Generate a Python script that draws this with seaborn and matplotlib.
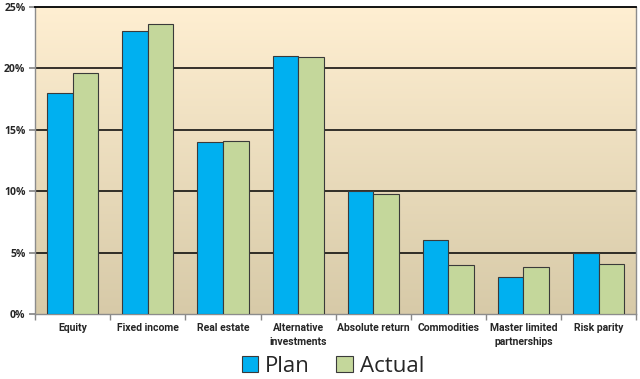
import numpy as np
import pandas as pd
import matplotlib
matplotlib.use("Agg")
import matplotlib.pyplot as plt
import seaborn as sns
from matplotlib.colors import LinearSegmentedColormap
from matplotlib.ticker import MultipleLocator, FuncFormatter

# Dados
categorias = ["Equity", "Fixed income", "Real estate", "Alternative\ninvestments",
              "Absolute return", "Commodities", "Master limited\npartnerships", "Risk parity"]
plan = [18.0, 23.0, 14.0, 21.0, 10.0, 6.0, 3.0, 5.0]
actual = [19.6, 23.6, 14.1, 20.9, 9.8, 4.0, 3.8, 4.1]
series = ["Plan", "Actual"]

df = pd.DataFrame({
    "categoria": categorias * 2,
    "valor": plan + actual,
    "serie": [series[0]] * len(plan) + [series[1]] * len(actual),
})

sns.set_theme(style="white")
plt.rcParams["font.family"] = ["Open Sans", "DejaVu Sans"]

fig = plt.figure(figsize=(6.4, 3.79), dpi=100)
ax = fig.add_axes([0.055, 0.171, 0.939, 0.811])

# fundo em gradiente
grad = LinearSegmentedColormap.from_list("bg", ["#D7CAA8", "#FFEFD2"])
ax.imshow(np.linspace(0, 1, 256).reshape(-1, 1), cmap=grad, origin="lower",
          extent=[0, 1, 0, 1], transform=ax.transAxes, aspect="auto", zorder=0)

sns.barplot(data=df, x="categoria", y="valor", hue="serie",
            palette={"Plan": "#00B0F0", "Actual": "#C4D79B"}, saturation=1,
            width=0.68, edgecolor="#3a3a3a", linewidth=0.8, ax=ax, zorder=3)

ax.set_ylim(0, 25)
ax.set_xlim(-0.5, len(categorias) - 0.5)
ax.yaxis.set_major_locator(MultipleLocator(5))
ax.yaxis.set_major_formatter(FuncFormatter(lambda v, p: f"{int(v)}%"))
for y in [5, 10, 15, 20]:
    ax.axhline(y, color="black", linewidth=1.1, zorder=2)

ax.set_xlabel("")
ax.set_ylabel("")
ax.set_xticks(range(len(categorias)))
ax.set_xticklabels(categorias, fontsize=7.5, fontweight="bold", linespacing=1.5,
                   family=["Roboto", "DejaVu Sans"])
ax.set_xticks(np.arange(-0.5, len(categorias), 1), minor=True)
ax.tick_params(axis="x", which="major", length=0, pad=6)
ax.tick_params(axis="x", which="minor", length=4, color="#888888", direction="out", bottom=True)
ax.tick_params(axis="y", length=4, color="#888888", direction="out", left=True,
               labelsize=7.5, pad=3)
for lbl in ax.get_yticklabels():
    lbl.set_fontweight("bold")

for s in ["left", "right", "bottom"]:
    ax.spines[s].set_color("#8c8c8c")
    ax.spines[s].set_linewidth(1.0)
ax.spines["top"].set_color("black")
ax.spines["top"].set_linewidth(1.3)

ax.legend_.remove()
handles, labels = ax.get_legend_handles_labels()
fig.legend(handles, labels, loc="center", bbox_to_anchor=(0.52, 0.033), ncol=2,
           frameon=False, fontsize=16, handlelength=0.75, handleheight=0.75,
           handletextpad=0.3, columnspacing=1.2, borderaxespad=0)

fig.savefig("out.png", dpi=100)
